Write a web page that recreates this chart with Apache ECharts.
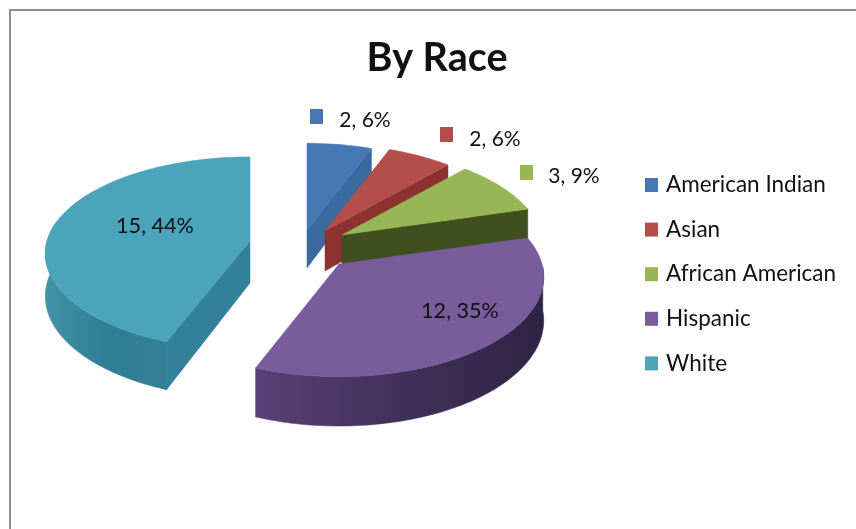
<!DOCTYPE html>
<html>
<head>
<meta charset="utf-8">
<style>html,body{margin:0;padding:0;background:#fff}#c{width:856px;height:529px;filter:blur(0.4px)}</style>
<script src="https://cdn.jsdelivr.net/npm/echarts@6/dist/echarts.min.js"></script>
</head>
<body>
<div id="c"></div>
<script>
// ---- data
var categories = ['American Indian', 'Asian', 'African American', 'Hispanic', 'White'];
var counts = [2, 2, 3, 12, 15];
var percents = [6, 6, 9, 35, 44];

// ---- look
var topColors = ['#4678b4', '#b34e4d', '#97b756', '#795c9c', '#4ba3bc'];
var cutColors = ['#3a6a9e', '#8c3331', '#3f4f20', '#5a4075', '#33809a'];
var wallGradients = [null, null, null, ['#5a4075', '#40305a', '#2e2444'], ['#4292a8', '#2f7e95', '#337f96']];
var FONT = 'Lato, "Open Sans", sans-serif';

// ---- layout of the exploded, perspective pie
var R = 200, K = 98, PERSP = 0.13;
var depths = [38, 40, 42, 43, 42];
var apexes = [[307, 230], [325, 231], [342, 235], [339, 264], [250, 241]];
var radiusScale = [1, 1, 1, 1.015, 1.015];
var squash = [1, 1, 1, 1.0, 0.97];
var wallSpan = [null, null, null, [92, 360], [0, 282]];
var cutAt = ['end', 'end', 'end', null, 'start'];
var labelPos = [[365, 120], [495, 139], [574, 176], [460, 311], [155, 226]];
var keyPos = [[310, 109], [440, 127], [520, 165], null, null];

var total = counts.reduce(function (a, b) { return a + b; }, 0);
function rad(d) { return d * Math.PI / 180; }

function project(i, deg, depth) {
  var t = rad(deg), s = Math.sin(t), c = Math.cos(t);
  var p = 1 / (1 + PERSP * c);
  return [
    apexes[i][0] + R * radiusScale[i] * s * p,
    apexes[i][1] - K * squash[i] * c * p + depth * p
  ];
}
function arc(i, a, b, depth) {
  var pts = [], n = Math.max(2, Math.ceil(Math.abs(b - a) / 2));
  for (var j = 0; j <= n; j++) pts.push(project(i, a + (b - a) * j / n, depth));
  return pts;
}
function poly(points, fill) {
  return { type: 'polygon', shape: { points: points }, style: { fill: fill, stroke: fill, lineWidth: 0.5 } };
}

function makeRender(i) {
  return function (params, api) {
    var before = 0;
    for (var k = 0; k < i; k++) before += counts[k];
    var a0 = before / total * 360;
    var a1 = a0 + api.value(0) / total * 360;
    var apexTop = apexes[i];
    var d = depths[i];
    var apexBottom = [apexTop[0], apexTop[1] + d];
    var kids = [];

    // radial cut face
    if (cutAt[i]) {
      var ang = cutAt[i] === 'end' ? a1 : a0;
      kids.push(poly([apexTop, project(i, ang, 0), project(i, ang, d), apexBottom], cutColors[i]));
    }
    // outer curved wall
    if (wallSpan[i]) {
      var w0 = Math.max(a0, wallSpan[i][0]), w1 = Math.min(a1, wallSpan[i][1]);
      var pts = arc(i, w0, w1, 0).concat(arc(i, w0, w1, d).reverse());
      var g = wallGradients[i];
      kids.push(poly(pts, new echarts.graphic.LinearGradient(0, 0, 1, 0, [
        { offset: 0, color: g[0] }, { offset: 0.5, color: g[1] }, { offset: 1, color: g[2] }
      ])));
    }
    // top face
    kids.push(poly([apexTop].concat(arc(i, a0, a1, 0)), topColors[i]));

    // data label (with legend key where the reference shows one)
    if (keyPos[i]) {
      kids.push({ type: 'rect', shape: { x: keyPos[i][0], y: keyPos[i][1], width: 13, height: 15 }, style: { fill: topColors[i] } });
    }
    kids.push({
      type: 'text', z2: 50,
      style: {
        x: labelPos[i][0], y: labelPos[i][1], text: api.value(0) + ', ' + percents[i] + '%',
        fill: '#111', font: (i > 2 ? '21.6px ' : '21px ') + FONT, textAlign: 'center', textVerticalAlign: 'middle'
      }
    });
    return { type: 'group', children: kids };
  };
}

// back to front: blue, red, green, white, purple; legend stays in category order
var drawOrder = [0, 1, 2, 4, 3];
var series = categories.map(function (name, i) {
  return {
    name: name,
    type: 'custom',
    coordinateSystem: 'none',
    z: 2 + drawOrder.indexOf(i),
    animation: false,
    silent: true,
    itemStyle: { color: topColors[i] },
    renderItem: makeRender(i),
    data: [[counts[i]]]
  };
});

var chart = echarts.init(document.getElementById('c'), null, { renderer: 'canvas' });
chart.setOption({
  animation: false,
  backgroundColor: '#fff',
  title: {
    text: 'By Race', left: 432, top: 33, textAlign: 'center',
    textStyle: { fontFamily: FONT, fontSize: 39.5, fontWeight: 'bold', color: '#111' }
  },
  legend: {
    orient: 'vertical', left: 640, top: 168, itemWidth: 13, itemHeight: 14, itemGap: 20.6,
    icon: 'rect', selectedMode: false,
    data: categories,
    textStyle: { fontFamily: FONT, fontSize: 22.5, color: '#111', lineHeight: 24, padding: [0, 0, 0, 3] }
  },
  graphic: [{
    type: 'rect', silent: true, z: 0,
    shape: { x: 10, y: 10, width: 900, height: 600 },
    style: { fill: 'none', stroke: '#8f8f8f', lineWidth: 2 }
  }],
  series: series
});
</script>
</body>
</html>
